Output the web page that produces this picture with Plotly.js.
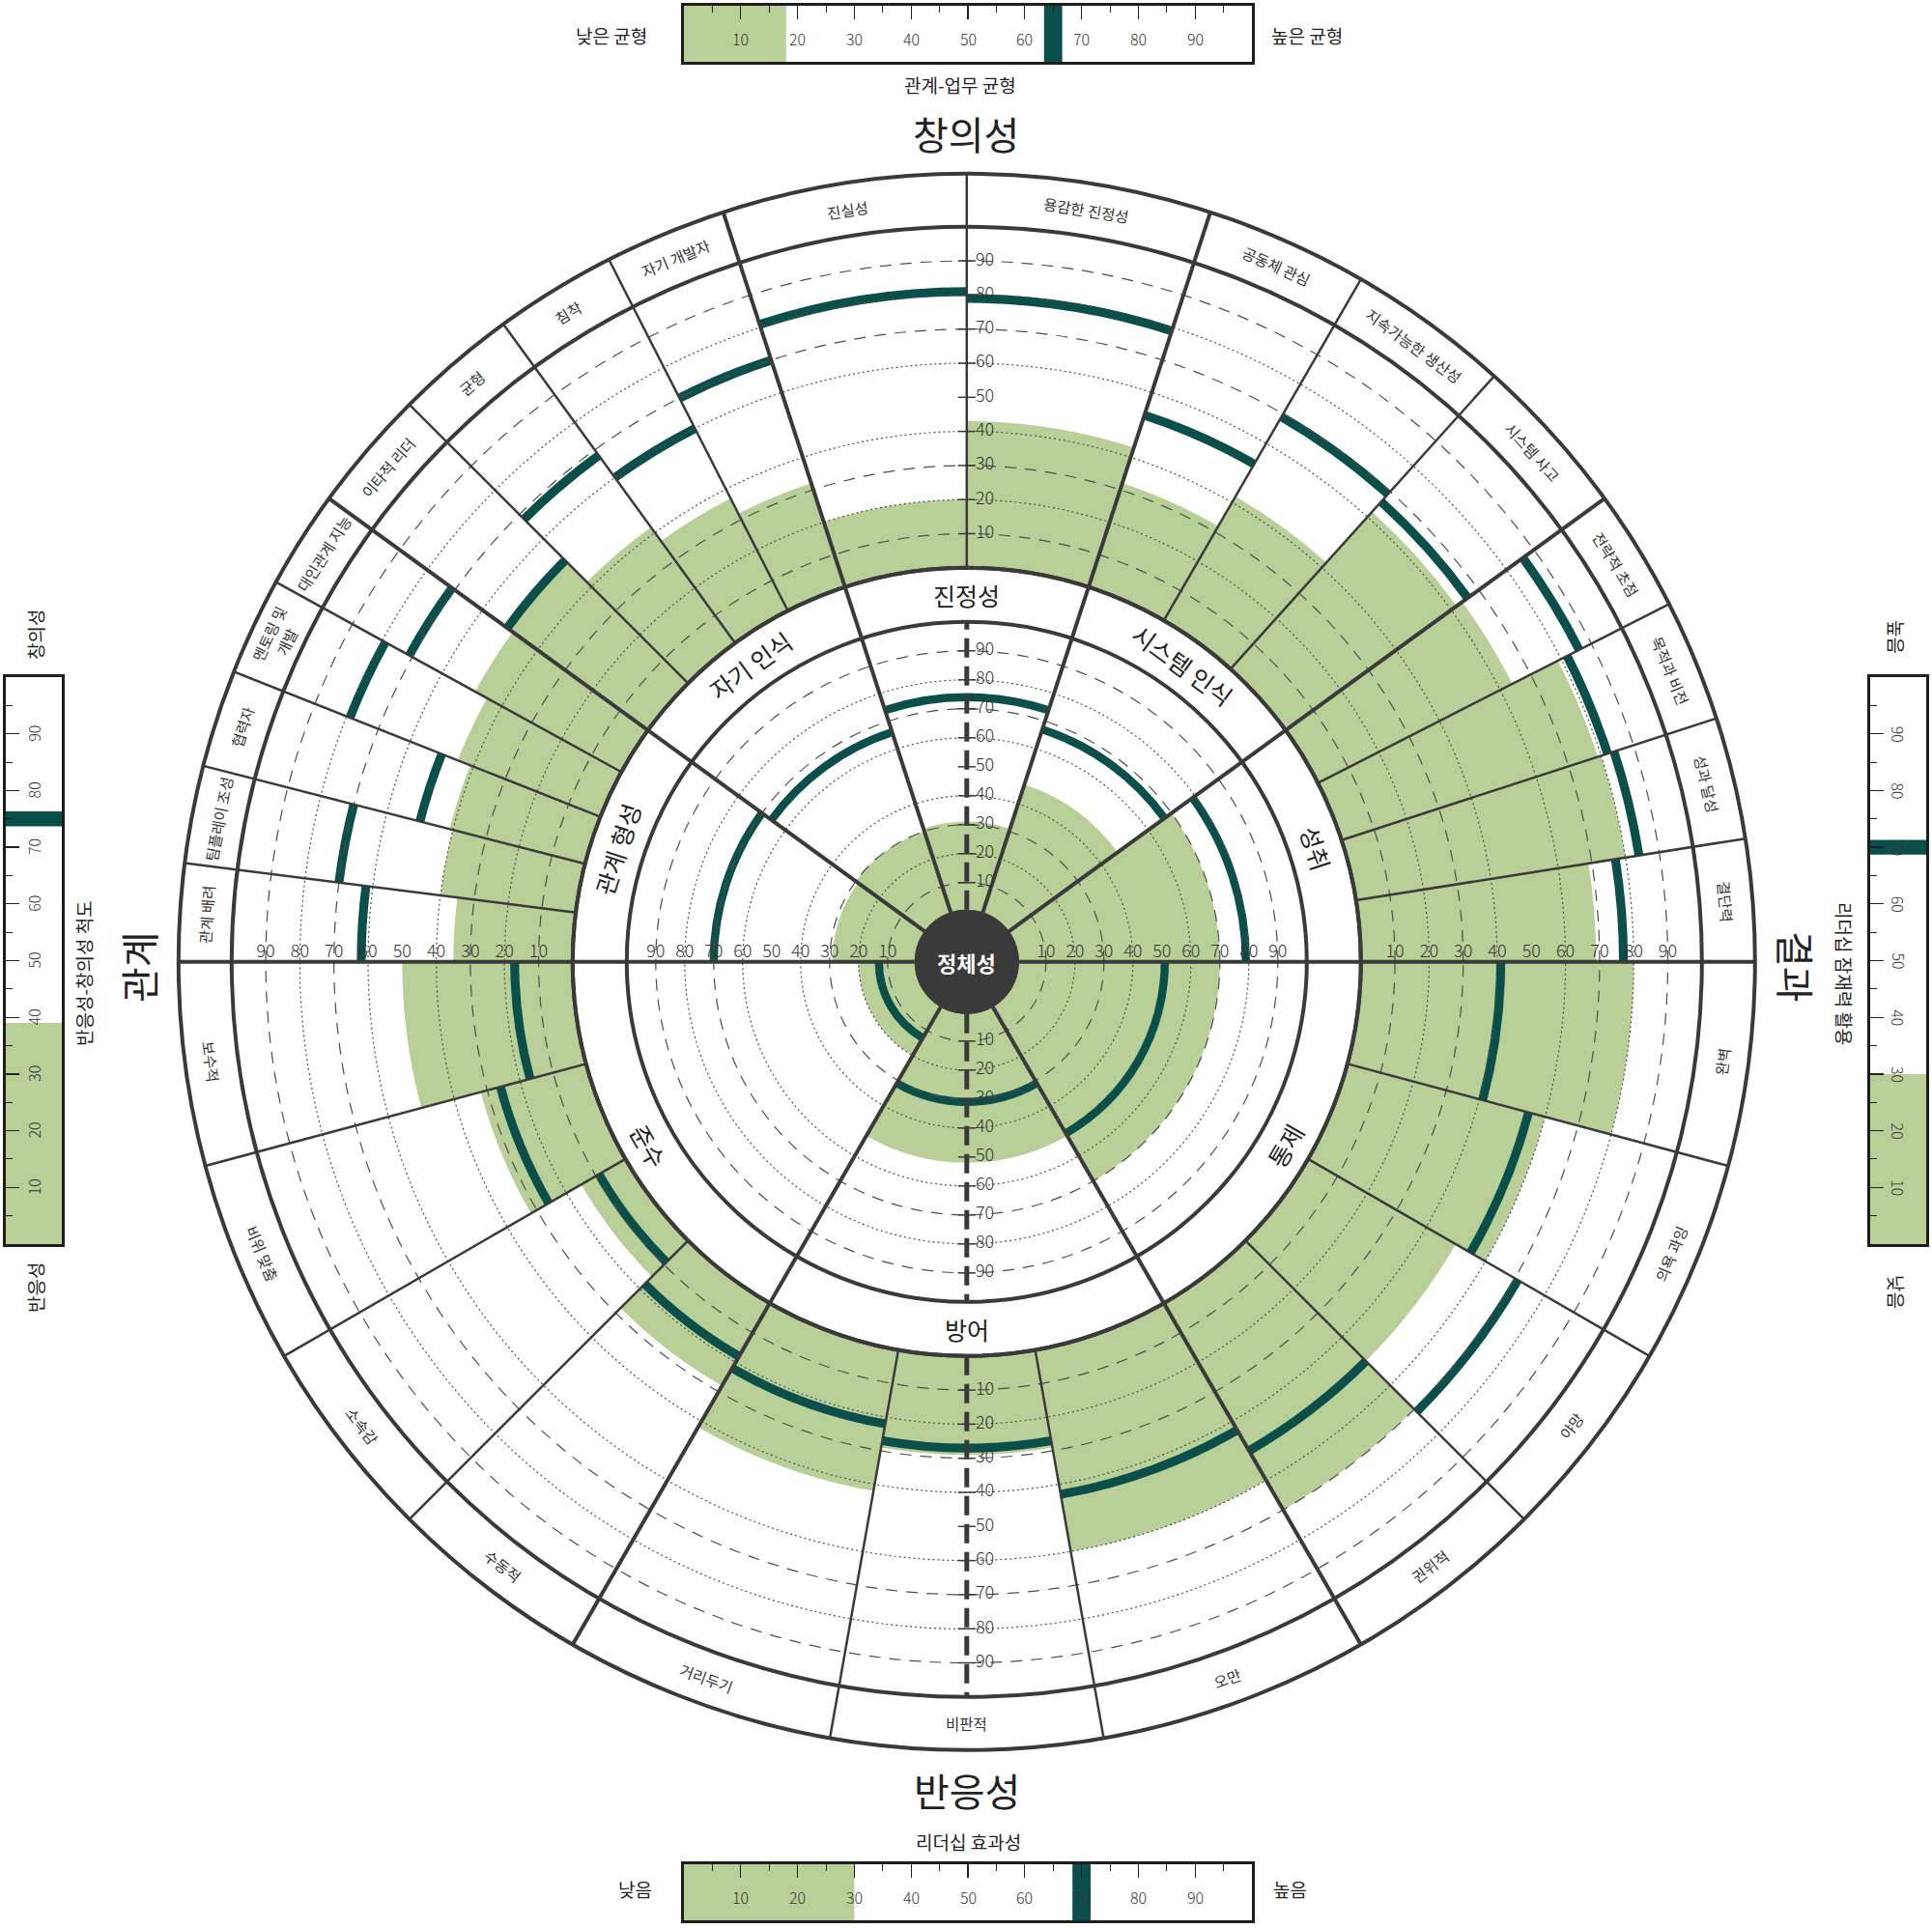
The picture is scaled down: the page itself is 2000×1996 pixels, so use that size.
<!DOCTYPE html>
<html>
<head>
<meta charset="utf-8">
<script src="https://cdn.plot.ly/plotly-3.0.1.min.js"></script>
<style>html,body{margin:0;padding:0;background:#fff}#chart{width:2000px;height:1996px}</style>
</head>
<body>
<div id="chart"></div>
<script>
// Leadership circle: inner dimensions, outer competencies, four scale gauges

// ── Data ──────────────────────────────────────────────────────────────────────
const dimNames = ['관계 형성', '자기 인식', '진정성', '시스템 인식', '성취', '준수', '방어', '통제'];
const dimFill  = [29, 30, 31, 47, 70, 20, 52, 70];
const dimLine  = [70, 66, 74, 67, 79, 13, 31, 51];

const compNames = [
  '관계 배려', '팀플레이 조성', '협력자', '멘토링 및<br>개발', '대인관계 지능',
  '이타적 리더', '균형', '침착', '자기 개발자',
  '진실성', '용감한 진정성',
  '공동체 관심', '지속가능한 생산성', '시스템 사고',
  '전략적 초점', '목적과 비전', '성과 달성', '결단력',
  '보수적', '비위 맞춤', '소속감', '수동적',
  '거리두기', '비판적', '오만',
  '권위적', '야망', '의욕 과잉', '완벽'];
const compDim  = [0,0,0,0,0, 1,1,1,1, 2,2, 3,3,3, 4,4,4,4, 5,5,5,5, 6,6,6, 7,7,7,7];
const compFill = [35,40,41,45,49, 50,42,37,32, 20,43, 32,42,62, 64,79,80,69, 50,32,15,28, 42,29,60, 70,50,60,80];
const compLine = [62,70,50,79,71, 51,68,60,70, 81,79, 53,69,66, 86,82,84,77, 17,26,9,18, 22,27,43, 50,71,55,41];

const scaleTicks = [10, 20, 30, 40, 50, 60, 70, 80, 90];

const gaugeNames = ['관계-업무 균형', '리더십 효과성', '반응성-창의성 척도', '리더십 잠재력 활용'];
const gaugeFill  = [18, 30, 39, 30];
const gaugeMark  = [65, 70, 75, 70];
const gaugeLow   = ['낮은 균형', '낮음', '반응성', '낮음'];
const gaugeHigh  = ['높은 균형', '높음', '창의성', '높음'];
const poleNames  = ['창의성', '반응성', '관계', '결과'];

// ── Style / geometry ──────────────────────────────────────────────────────────
const FONT  = "'Noto Sans CJK KR', 'Noto Sans', sans-serif";
const GREEN = '#b8cf98', TEAL = '#0b4f4b', DARK = '#3a3a3a', GRID = '#4d4d4d';
const W = 2000, H = 1996, CX = 1000.8, CY = 995.8;
const R_DISC = 54, R_IN0 = 52, R_IN = 352, R_OUT0 = 408, R_OUT = 761, R_RIM = 816;

// dimension spans: 5 equal wedges over the top (180 -> 0), 3 below (180 -> 360)
const dimStart = dimNames.map((_, i) => i < 5 ? 180 - 36 * i : 180 + 60 * (i - 5));
const dimEnd   = dimNames.map((_, i) => i < 5 ? 144 - 36 * i : 240 + 60 * (i - 5));
const dimMid   = dimStart.map((s, i) => (s + dimEnd[i]) / 2);
const dimWidth = dimStart.map((s, i) => Math.abs(dimEnd[i] - s));

// competencies split their dimension equally
const compMid = [], compWidth = [], segBounds = [];
compDim.forEach((d, i) => {
  const members = compDim.map((v, j) => v === d ? j : -1).filter(j => j >= 0);
  const k = members.indexOf(i), n = members.length;
  const a0 = dimStart[d] + (dimEnd[d] - dimStart[d]) * k / n;
  const a1 = dimStart[d] + (dimEnd[d] - dimStart[d]) * (k + 1) / n;
  compMid.push((a0 + a1) / 2);
  compWidth.push(Math.abs(a1 - a0));
  segBounds.push(a0 % 360, a1 % 360);
});
const dimBounds = [...new Set(dimStart.concat(dimEnd).map(a => a % 360))];

function dom(R) {
  return { x: [(CX - R) / W, (CX + R) / W], y: [(H - CY - R) / H, (H - CY + R) / H] };
}
function polarLayer(R, hole, opt) {
  opt = opt || {};
  return {
    domain: dom(R), hole: hole, bgcolor: opt.bg || 'rgba(0,0,0,0)', barmode: 'overlay',
    radialaxis: Object.assign({ range: [0, 100], showline: false, showticklabels: false,
      ticks: '', showgrid: false }, opt.radial || {}),
    angularaxis: Object.assign({ type: 'linear', thetaunit: 'degrees', rotation: 0,
      direction: 'counterclockwise', showline: false, showticklabels: false, ticks: '',
      showgrid: false }, opt.angular || {}),
  };
}
const rim = { showline: true, linecolor: DARK, linewidth: 4 };
const gridStyle = (vals, dash, w) => ({ showgrid: true, tickvals: vals, griddash: dash, gridcolor: GRID, gridwidth: w });

// ── Traces ────────────────────────────────────────────────────────────────────
const traces = [];
// outer ring
traces.push({ type: 'barpolar', subplot: 'polar', theta: compMid, width: compWidth, r: compFill,
  marker: { color: GREEN, line: { width: 0 } }, hoverinfo: 'skip' });
traces.push({ type: 'barpolar', subplot: 'polar', theta: compMid, width: compWidth,
  base: compLine.map(v => v - 1.3), r: compLine.map(() => 2.6),
  marker: { color: TEAL, line: { width: 0 } }, hoverinfo: 'skip' });
// inner ring
traces.push({ type: 'barpolar', subplot: 'polar2', theta: dimMid, width: dimWidth, r: dimFill,
  marker: { color: GREEN, line: { width: 0 } }, hoverinfo: 'skip' });
traces.push({ type: 'barpolar', subplot: 'polar2', theta: dimMid, width: dimWidth,
  base: dimLine.map(v => v - 1.4), r: dimLine.map(() => 2.8),
  marker: { color: TEAL, line: { width: 0 } }, hoverinfo: 'skip' });

// decoration-only subplots still need a trace to be registered
['polar3', 'polar4', 'polar6', 'polar7', 'polar9', 'polar11', 'polar12', 'polar13', 'polar14'].forEach(sp => {
  traces.push({ type: 'scatterpolar', subplot: sp, r: [], theta: [], mode: 'lines', hoverinfo: 'skip' });
});

// radial scale labels along the four axes of each ring (drawn on top)
['polar15', 'polar16'].forEach(sp => {
  [[0, 'top center'], [180, 'top center'], [90, 'middle right'], [270, 'middle right']].forEach(([ang, pos]) => {
    const vert = ang === 90 || ang === 270;
    traces.push({ type: 'scatterpolar', subplot: sp, mode: vert ? 'markers+text' : 'text', r: scaleTicks,
      theta: scaleTicks.map(() => ang), text: scaleTicks.map(String), textposition: pos,
      marker: { symbol: 'line-ew-open', size: 13, color: DARK, line: { color: DARK, width: 1.5 } },
      textfont: { family: FONT, size: 18, color: '#333', weight: 300 },
      hoverinfo: 'skip', cliponaxis: false });
  });
});

// gauges
const gAx = ['', '2', '3', '4'];
gaugeNames.forEach((_, g) => {
  const vertical = g >= 2;
  const ax = { xaxis: 'x' + gAx[g], yaxis: 'y' + gAx[g], hoverinfo: 'skip', cliponaxis: false };
  if (vertical) {
    traces.push(Object.assign({ type: 'bar', x: [0.5], y: [gaugeFill[g]], base: [0], width: [1],
      marker: { color: GREEN, line: { width: 0 } } }, ax));
    traces.push(Object.assign({ type: 'bar', x: [0.5], y: [2.6], base: [gaugeMark[g] - 1.3], width: [1.22],
      marker: { color: TEAL, line: { width: 0 } } }, ax));
  } else {
    traces.push(Object.assign({ type: 'bar', orientation: 'h', y: [0.5], x: [gaugeFill[g]], base: [0], width: [1],
      marker: { color: GREEN, line: { width: 0 } } }, ax));
    traces.push(Object.assign({ type: 'bar', orientation: 'h', y: [0.5], x: [3.2], base: [gaugeMark[g] - 1.6], width: [1.24],
      marker: { color: TEAL, line: { width: 0 } } }, ax));
  }
});

// ── Layout ────────────────────────────────────────────────────────────────────
const layout = {
  width: W, height: H, margin: { l: 0, r: 0, t: 0, b: 0 },
  paper_bgcolor: '#fff', plot_bgcolor: 'rgba(0,0,0,0)', showlegend: false, barmode: 'overlay',
  font: { family: FONT, color: '#222' },
  polar:   polarLayer(R_OUT, R_OUT0 / R_OUT, { angular: rim }),
  polar2:  polarLayer(R_IN, R_IN0 / R_IN, { angular: rim }),
  polar3:  polarLayer(R_OUT, R_OUT0 / R_OUT, { radial: gridStyle([10, 30, 70, 90], '12px,9px', 1.2) }),
  polar4:  polarLayer(R_OUT, R_OUT0 / R_OUT, { radial: gridStyle([20, 40, 60, 80], '2px,3px', 1.2) }),
  polar5:  polarLayer(R_OUT, R_OUT0 / R_OUT, { radial: gridStyle([50], 'solid', 1) }),
  polar6:  polarLayer(R_IN, R_IN0 / R_IN, { radial: gridStyle([10, 30, 70, 90], '12px,9px', 1.2) }),
  polar7:  polarLayer(R_IN, R_IN0 / R_IN, { radial: gridStyle([20, 40, 60, 80], '2px,3px', 1.2) }),
  polar8:  polarLayer(R_IN, R_IN0 / R_IN, { radial: gridStyle([50], 'solid', 1) }),
  polar9:  polarLayer(R_RIM, R_OUT0 / R_RIM, { angular: Object.assign({ showgrid: true, tickvals: segBounds,
             gridcolor: DARK, gridwidth: 2.5 }, rim) }),
  polar11: polarLayer(R_RIM, R_DISC / R_RIM, { angular: { showgrid: true, tickvals: dimBounds,
             gridcolor: DARK, gridwidth: 4 } }),
  polar12: polarLayer(R_IN, R_DISC / R_IN, { angular: { showgrid: true, tickvals: [90, 270],
             gridcolor: DARK, gridwidth: 5, griddash: '20px,9px' } }),
  polar13: polarLayer(R_OUT, R_OUT0 / R_OUT, { angular: { showgrid: true, tickvals: [270],
             gridcolor: DARK, gridwidth: 5, griddash: '20px,9px' } }),
  polar14: polarLayer(R_DISC, 0, { bg: DARK }),
  polar15: polarLayer(R_OUT, R_OUT0 / R_OUT),
  polar16: polarLayer(R_IN, R_IN0 / R_IN),
  annotations: [],
};

// gauge axes
const gaugeBox = [
  { x0: 708, x1: 1296, y0: 6, y1: 64 },
  { x0: 708, x1: 1296, y0: 1930, y1: 1988 },
  { x0: 6, x1: 64, y0: 701, y1: 1288 },
  { x0: 1936, x1: 1994, y0: 701, y1: 1288 },
];
gaugeBox.forEach((b, g) => {
  const vertical = g >= 2;
  const frame = { showline: true, mirror: true, linecolor: '#1e1e1e', linewidth: 3, showgrid: false,
    zeroline: false, showticklabels: false, fixedrange: true, layer: 'above traces' };
  const scale = Object.assign({}, frame, { range: [0, 100], ticks: 'inside', tickmode: 'array',
    tickvals: scaleTicks, ticklen: 14, tickwidth: 1.2, tickcolor: '#222',
    minor: { tick0: 5, dtick: 10, ticks: 'inside', ticklen: 7, tickwidth: 1, tickcolor: '#222' } });
  const plain = Object.assign({}, frame, { range: [0, 1], ticks: '' });
  const xd = [b.x0 / W, b.x1 / W], yd = [1 - b.y1 / H, 1 - b.y0 / H];
  layout['xaxis' + gAx[g]] = Object.assign(vertical ? plain : Object.assign(scale, { side: 'top' }),
    { domain: xd, anchor: 'y' + gAx[g] });
  layout['yaxis' + gAx[g]] = Object.assign(vertical ? Object.assign({}, scale, { side: 'left' }) : plain,
    { domain: yd, anchor: 'x' + gAx[g] });
  scaleTicks.forEach(v => {
    layout.annotations.push({ text: String(v), xref: 'x' + gAx[g], yref: 'y' + gAx[g],
      x: vertical ? 0.5 : v, y: vertical ? v : 0.42, showarrow: false,
      textangle: vertical ? (g === 2 ? -90 : 90) : 0,
      font: { family: FONT, size: 16, color: '#333', weight: 300 } });
  });
});

// ── Text ──────────────────────────────────────────────────────────────────────
function ann(text, px, py, size, extra) {
  return Object.assign({ text: text, x: px / W, y: 1 - py / H, xref: 'paper', yref: 'paper',
    showarrow: false, xanchor: 'center', yanchor: 'middle',
    font: { family: FONT, size: size, color: '#222' } }, extra || {});
}
function onRing(r, deg) {
  const t = deg * Math.PI / 180;
  return [CX + r * Math.cos(t), CY - r * Math.sin(t)];
}
const tangent = deg => deg <= 180 ? 90 - deg : 270 - deg;

compNames.forEach((name, i) => {
  const [px, py] = onRing((R_OUT + R_RIM) / 2, compMid[i]);
  layout.annotations.push(ann(name, px, py, 15, { textangle: tangent(compMid[i]),
    font: { family: FONT, size: 15.5, color: '#333' } }));
});
dimNames.forEach((name, i) => {
  const [px, py] = onRing((R_IN + R_OUT0) / 2, dimMid[i]);
  layout.annotations.push(ann(name, px, py, 25, { textangle: tangent(dimMid[i]) }));
});
layout.annotations.push(ann('<b>정체성</b>', CX, CY, 22, { font: { family: FONT, size: 22, color: '#fff' } }));

// pole titles
layout.annotations.push(ann(poleNames[0], 1000, 138, 40));
layout.annotations.push(ann(poleNames[1], 1001, 1853, 40));
layout.annotations.push(ann(poleNames[2], 143, 1001, 40, { textangle: -90 }));
layout.annotations.push(ann(poleNames[3], 1860, 1001, 40, { textangle: 90 }));

// gauge captions
layout.annotations.push(ann(gaugeLow[0], 672, 36, 19, { xanchor: 'right' }));
layout.annotations.push(ann(gaugeHigh[0], 1314, 36, 19, { xanchor: 'left' }));
layout.annotations.push(ann(gaugeNames[0], 994, 87, 19));
layout.annotations.push(ann(gaugeLow[1], 677, 1955, 19, { xanchor: 'right' }));
layout.annotations.push(ann(gaugeHigh[1], 1316, 1955, 19, { xanchor: 'left' }));
layout.annotations.push(ann(gaugeNames[1], 1002, 1906, 19));
layout.annotations.push(ann(gaugeHigh[2], 36, 657, 19, { textangle: -90 }));
layout.annotations.push(ann(gaugeLow[2], 36, 1333, 19, { textangle: -90 }));
layout.annotations.push(ann(gaugeNames[2], 87, 1008, 19, { textangle: -90 }));
layout.annotations.push(ann(gaugeHigh[3], 1964, 659, 19, { textangle: 90 }));
layout.annotations.push(ann(gaugeLow[3], 1964, 1337, 19, { textangle: 90 }));
layout.annotations.push(ann(gaugeNames[3], 1909, 1008, 19, { textangle: 90 }));

Plotly.newPlot('chart', traces, layout, { displayModeBar: false, staticPlot: true });
</script>
</body>
</html>
